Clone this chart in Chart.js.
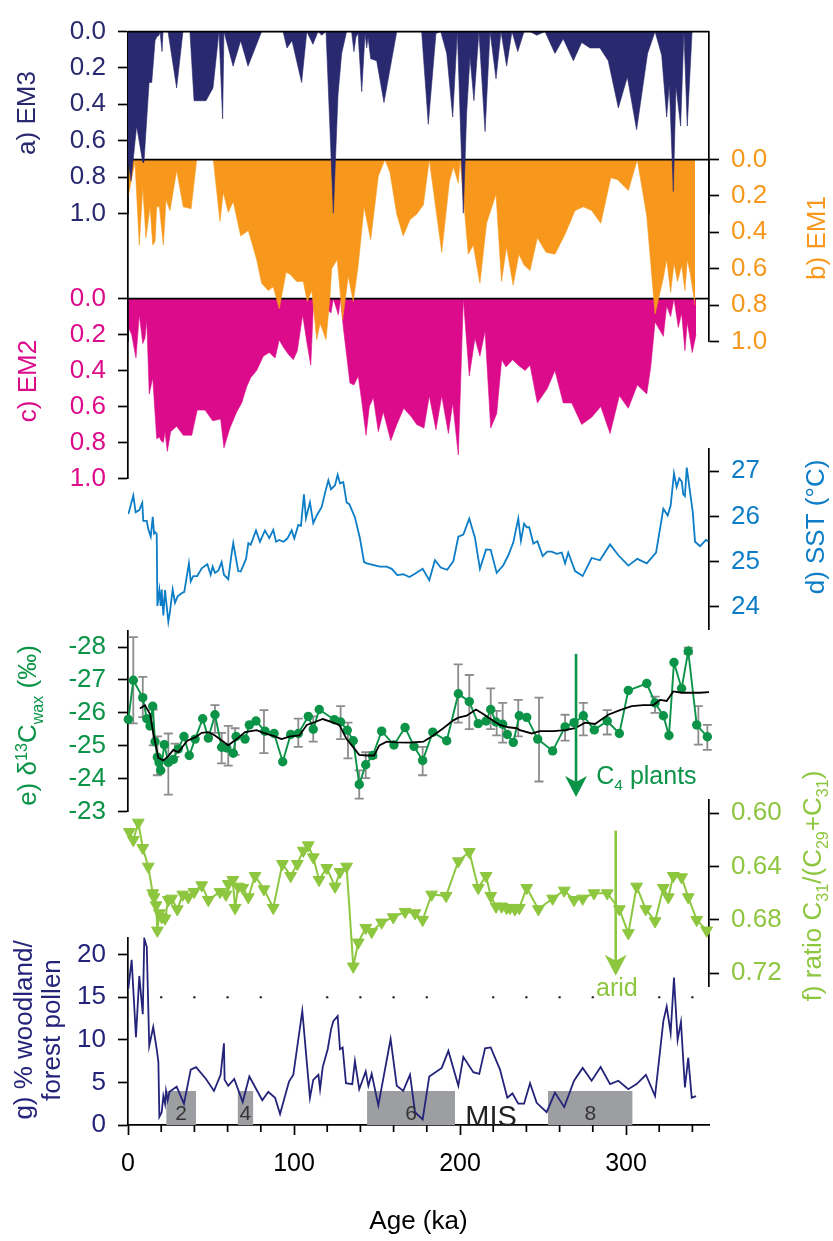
<!DOCTYPE html>
<html>
<head>
<meta charset="utf-8">
<script src="https://cdn.jsdelivr.net/npm/chart.js@4.4.1/dist/chart.umd.min.js"></script>
<style>
  html, body { margin: 0; padding: 0; background: #fff; }
  #fig { position: relative; width: 833px; height: 1241px; overflow: hidden; background: #fff; }
  #fig canvas { position: absolute; left: 0; }
</style>
</head>
<body>
<div id="fig"></div>
<script>
// ---- data (age in ka, value) ----
const AGE_MIN = 0, AGE_MAX = 350;
const AGE_TICKS = [0, 100, 200, 300];
const AGE_MINOR = [20, 40, 60, 80, 120, 140, 160, 180, 220, 240, 260, 280, 320, 340];

const EM_TICKS = [0, 0.2, 0.4, 0.6, 0.8, 1.0];
const SST_TICKS = [24, 25, 26, 27];
const D13C_TICKS = [-28, -27, -26, -25, -24, -23];
const RATIO_TICKS = [0.60, 0.62, 0.64, 0.66, 0.68, 0.70, 0.72];
const POLLEN_TICKS = [0, 5, 10, 15, 20];

const EM3 = [[0,0.70],[1.8,0.82],[5.2,0.52],[8.9,0.72],[9.6,0.72],[12.7,0.28],[14.3,0.28],[16.3,0.05],[17.3,0.03],[18.7,0.02],[19.3,0],[20.5,0.11],[21.1,0],[24.1,0],[29.3,0.31],[33.1,0],[37.3,0],[39.8,0.38],[47,0.38],[51.2,0.31],[54.8,0],[57,0.48],[57.8,0],[63.3,0.19],[67.9,0.05],[72.3,0.19],[80.5,0],[93.4,0],[95.8,0.09],[98.8,0.05],[104.6,0.28],[107.7,0],[111.4,0.07],[114.5,0],[116.7,0.02],[119.3,0],[123.7,1.0],[126.5,0.35],[128.7,0.12],[131.7,0],[134.7,0],[136.1,0.11],[137.3,0.03],[138.6,0.01],[140.8,0.33],[142.8,0.01],[143.8,0.09],[144.6,0.03],[146.2,0.15],[149.8,0.16],[154.2,0.39],[161.9,0],[176.9,0],[180.9,0.51],[185.5,0.01],[188.4,0],[192,0.12],[195.6,0.47],[198.4,0],[202,1.0],[204,0.45],[206,0.14],[208.4,0.38],[211.4,0],[215.1,0.55],[218.1,0],[221.7,0.26],[224.7,0],[228.1,0.19],[231.3,0],[234.8,0.11],[238.6,0],[242.2,0],[246.2,0.02],[251.2,0],[257.2,0.12],[262.2,0.04],[268.3,0.16],[273.3,0.06],[278.3,0.09],[284.3,0.09],[289.3,0.16],[295.4,0.42],[300.8,0.25],[306.4,0.54],[313,0.12],[317.5,0],[321.5,0.13],[324.5,0.47],[326.1,0.29],[328.5,0.88],[330.1,0.30],[332.9,0.52],[334.9,0],[336.9,0.52],[339.8,0],[341.6,0]];

const EM1 = [[0.2,0.20],[4.2,0.01],[6.8,0.47],[8.9,0.15],[10.8,0.43],[13.3,0.26],[14.9,0.47],[16.3,0.45],[17.3,0.26],[18.9,0.26],[21.3,0.47],[22.9,0.22],[25.3,0.28],[29.3,0.06],[33.3,0.26],[38,0.27],[41.4,0],[51.4,0],[55.4,0.34],[57.4,0.18],[60.4,0.29],[63.4,0.23],[67.9,0.42],[72.5,0.39],[77.5,0.55],[80.5,0.68],[84.5,0.72],[87.5,0.70],[91.1,0.82],[95.2,0.62],[97.6,0.63],[101.6,0.67],[105.6,0.67],[108,0.78],[110.7,0.72],[113.7,0.99],[115.7,0.90],[119.3,0.99],[121.7,0.75],[122.7,0.60],[126,0.55],[129.3,0.88],[132.7,0.64],[135.7,0.78],[138.7,0.58],[142.2,0.26],[146.2,0.44],[150.8,0.09],[154.8,0],[157.8,0.07],[161.9,0.30],[165.8,0.42],[169.9,0.33],[173.9,0.30],[177.9,0.25],[181.5,0],[189,0.51],[193.6,0.12],[196,0.04],[199,0.13],[200,0],[205,0.52],[208,0.47],[212,0.68],[216,0.35],[221.7,0.19],[225,0.67],[228,0.48],[232,0.69],[235.5,0.52],[238.6,0.58],[242.2,0.61],[246.6,0.43],[251.8,0.51],[257.2,0.52],[263.3,0.41],[269.3,0.28],[274.3,0.26],[279.3,0.28],[284.8,0.35],[290.8,0.10],[294.8,0.11],[301.4,0.17],[306.8,0],[312.5,0.31],[317.5,0.85],[322.5,0.65],[324.5,0.55],[326.9,0.73],[328.9,0.57],[331.1,0.67],[333.5,0.58],[335.5,0.72],[336.9,0.55],[338.6,0.62],[341.6,0.80]];

const EM2 = [[0.2,0.16],[2.2,0.20],[4.8,0.33],[6.8,0.09],[8.9,0.25],[10.2,0.22],[11.3,0.12],[12.8,0.53],[14.9,0.44],[17.3,0.78],[18.9,0.77],[19.9,0.79],[21.3,0.80],[22.3,0.74],[23.7,0.85],[25.7,0.74],[29.3,0.71],[33.3,0.76],[38.4,0.76],[41.7,0.62],[46.4,0.62],[51,0.68],[55.8,0.67],[57.8,0.83],[61.4,0.72],[65.5,0.63],[68.5,0.58],[71.5,0.49],[73.9,0.44],[77.5,0.40],[81.5,0.32],[85.1,0.30],[88.6,0.33],[91.1,0.23],[93.6,0.27],[96.6,0.31],[99.6,0.34],[102,0.29],[105.2,0.09],[107.7,0.24],[110.1,0.37],[111.6,0.05],[115.7,0.02],[122.3,0.08],[123.7,0],[126.7,0.09],[128.1,0],[129.7,0.16],[133.7,0.47],[136.1,0.48],[138.7,0.43],[140.8,0.57],[143.4,0.76],[145.4,0.60],[147.8,0.55],[150.8,0.74],[153.8,0.63],[158.3,0.79],[161.9,0.70],[166.1,0.61],[170.9,0.66],[173.9,0.70],[178.3,0.72],[181.5,0.54],[185.5,0.73],[189,0.54],[193,0.75],[195.6,0.58],[199,0.87],[202,0],[205.6,0.43],[209,0.22],[212,0.32],[215.1,0.18],[218.5,0.72],[222.1,0.64],[225.1,0.34],[227.7,0.38],[231.7,0.34],[235.1,0.37],[239.2,0.40],[242.2,0.37],[246.6,0.58],[252.6,0.50],[257.2,0.40],[262.2,0.58],[267.3,0.58],[273.3,0.70],[279.3,0.66],[284.8,0.60],[290.4,0.75],[296,0.54],[301.4,0.61],[306.8,0.48],[312.5,0.53],[314.9,0.38],[317.5,0.13],[322.5,0.21],[324.5,0.04],[326.9,0.10],[328.9,0],[331.5,0.16],[333.5,0.08],[335.5,0.29],[336.9,0.13],[339.9,0.30],[342.2,0.20]];

const SST_AGE = [0.2,3.2,4.6,6.8,8.6,9.2,11.3,12.2,13.7,14.9,15.7,16.4,17.3,17.7,18.9,19.7,20.3,21.3,22.3,23.3,24.3,25.3,26.9,28.3,29.9,32.3,33.9,36.7,37.8,39.3,41.7,44.4,47.8,49.8,51,52.4,54.4,56.4,57.8,60.4,62.5,63.4,66.4,67.9,71.1,72.5,73.9,77.1,79.5,82.5,85.1,87.5,89.2,91.1,93.6,96,98.6,100.2,102.6,104.2,106,107.2,109.6,111.6,113.7,116.7,118.7,120.7,122.3,124.7,126.3,127.7,129.7,131.7,133.3,136.7,139.8,142.2,143.8,151.8,155.8,158.9,162.2,165.8,169.5,172.9,177.5,181.5,184.9,188.4,192.3,196,199,202,205.6,209,212,215.7,218.5,222.1,226.1,229.1,232.1,235.1,236.7,238.6,240.2,241.7,244.2,246.6,249.8,252.6,255.2,258.3,261.3,263.3,265.2,269.3,273.9,279.3,284.3,290.4,295.4,301.4,306.8,312.5,318.1,322.5,325.1,326.9,328.9,330.5,332.1,333.6,334.5,335.5,336.6,338.1,340.2,341.6,344.6,348.2,349.6];
const SST_VAL = [26.05,26.46,26.09,26.14,26.30,25.90,25.90,25.72,25.55,25.99,25.62,25.65,25.61,24.02,24.37,24.02,24.38,23.81,24.37,24.02,23.67,23.90,24.38,24.09,24.23,24.30,24.33,24.96,24.56,24.68,24.68,24.85,24.94,24.71,24.89,24.75,24.80,24.99,24.71,24.61,25.20,25.41,24.79,24.78,25.06,25.41,25.37,25.69,25.44,25.69,25.52,25.70,25.44,25.48,25.44,25.51,25.69,25.51,25.81,25.79,26.49,25.96,26.31,25.85,26.02,26.21,26.52,26.80,26.60,26.69,26.92,26.73,26.76,26.31,26.27,25.98,25.50,24.99,24.96,24.89,24.89,24.84,24.70,24.72,24.66,24.73,24.84,24.59,25.03,24.87,24.82,25.01,25.55,25.60,25.95,25.53,24.84,25.27,25.26,24.75,24.92,25.14,25.42,25.95,25.46,25.84,25.76,25.76,25.40,25.45,25.12,25.22,25.22,25.17,25.20,24.96,25.20,24.79,24.68,25.08,25.03,25.38,25.14,24.91,25.06,24.96,25.20,26.17,26.02,26.24,26.95,26.65,26.84,26.77,26.49,26.45,27.08,26.67,26.10,25.44,25.34,25.48,25.45];

const D13C = [[0.2,-25.80],[3.2,-26.99],[8.9,-26.46],[11.3,-25.82],[13.3,-25.60],[14.9,-26.20],[16.3,-25.12],[17.7,-24.65],[18.7,-24.49],[19.7,-24.25],[21.9,-25.03],[24.3,-24.49],[27.3,-24.58],[30.3,-24.90],[33.7,-25.28],[36.9,-24.70],[40.4,-25.20],[45,-25.82],[48.4,-25.23],[52.4,-25.94],[56.4,-24.95],[59.5,-24.93],[63.4,-24.77],[65.1,-25.28],[70.5,-25.20],[73.1,-25.63],[77.1,-25.75],[82.5,-25.44],[88,-25.37],[93.2,-24.51],[98,-25.34],[102.6,-25.37],[108.6,-25.89],[111.6,-25.50],[115.2,-26.10],[124.3,-25.79],[128.1,-25.72],[132.1,-25.47],[135.7,-25.15],[139.3,-23.82],[143.2,-24.42],[147.4,-24.70],[152.8,-25.44],[160.2,-25.02],[166.9,-25.55],[172.3,-24.98],[177.5,-24.55],[183.6,-25.41],[192,-25.15],[199,-26.58],[205.6,-26.34],[211,-25.67],[215.7,-25.75],[218.5,-26.10],[221.7,-25.72],[225.7,-25.65],[228.5,-25.34],[232.1,-25.10],[235.7,-25.91],[240.2,-25.86],[246.8,-25.20],[255.8,-24.84],[263.3,-25.57],[268.7,-25.70],[274.3,-25.91],[280.9,-25.48],[288.7,-25.75],[296,-25.37],[301.4,-26.68],[312.5,-26.89],[317.5,-26.30],[322.5,-25.91],[325.9,-25.31],[328.9,-27.53],[333.5,-26.74],[337.5,-27.87],[342.6,-25.63],[349,-25.27]];

// [age, upper, lower] in permil
const D13C_ERR = [[3.2,-28.30,-25.68],[8.9,-27.09,-25.87],[15.2,-26.10,-25.01],[17.7,-25.28,-24.10],[24.3,-25.37,-23.51],[28.3,-25.06,-24.66],[52.4,-26.23,-25.39],[56.4,-25.39,-24.46],[60.4,-25.60,-24.39],[64.5,-25.53,-24.72],[81.9,-26.08,-24.77],[102.6,-25.82,-24.96],[111.6,-25.89,-25.12],[128.1,-26.20,-25.20],[132.5,-25.70,-24.61],[139.3,-24.25,-23.39],[143.2,-24.80,-24.01],[147.4,-24.80,-24.63],[177.5,-24.96,-24.10],[198.9,-27.47,-25.70],[205.6,-27.15,-25.50],[218.5,-26.74,-25.50],[222.1,-26.06,-25.31],[225.7,-26.30,-25.09],[235.1,-26.39,-25.28],[247.6,-26.46,-23.91],[263.3,-25.94,-25.15],[274.3,-26.30,-25.31],[288.7,-26.08,-25.34],[317.5,-26.49,-26.00],[337.5,-27.98,-27.79],[343.6,-26.20,-25.03],[349,-25.63,-24.87]];

const D13C_SMOOTH = [[7.2,-26.13],[10.2,-26.23],[13.3,-25.96],[15.2,-25.39],[18.3,-24.63],[21.3,-24.55],[24.3,-24.68],[27.3,-24.87],[30.3,-24.80],[35.7,-25.15],[40.4,-25.25],[44.4,-25.39],[48.4,-25.41],[52.4,-25.31],[60.4,-25.01],[65.5,-25.20],[70.5,-25.41],[77.5,-25.47],[81.5,-25.39],[87.5,-25.30],[92.6,-25.20],[97.6,-25.28],[103.2,-25.31],[107.7,-25.63],[112.7,-25.72],[117.3,-25.81],[123.7,-25.70],[127.3,-25.63],[131.7,-25.20],[134.8,-25.01],[139.3,-24.72],[143.8,-24.70],[148.2,-24.70],[151.4,-25.01],[155.8,-25.12],[161.9,-25.10],[169.9,-25.09],[177.9,-25.12],[183.9,-25.31],[189.9,-25.53],[196,-25.77],[199,-25.85],[204,-25.91],[209.6,-26.10],[214,-25.96],[219.1,-25.79],[224.1,-25.63],[229.1,-25.56],[234.2,-25.53],[236.1,-25.47],[243.2,-25.37],[248.2,-25.44],[256.2,-25.44],[263.3,-25.47],[269.3,-25.53],[275.3,-25.70],[281.3,-25.66],[289.3,-25.94],[296.4,-26.08],[303.4,-26.20],[310.4,-26.23],[316.4,-26.23],[320.5,-26.39],[324.5,-26.36],[328.5,-26.65],[333.5,-26.61],[339.6,-26.61],[344.6,-26.61],[350,-26.63]];

const RATIO = [[0.8,0.614],[3.2,0.620],[6.2,0.607],[8.9,0.626],[12.2,0.640],[14.9,0.660],[15.7,0.663],[16.9,0.669],[17.7,0.688],[18.9,0.675],[20.3,0.678],[22.3,0.679],[24.3,0.665],[26.3,0.664],[29.7,0.672],[33,0.661],[36.3,0.663],[39.8,0.659],[44.4,0.654],[48.4,0.665],[55.4,0.659],[59,0.661],[60.4,0.653],[63.1,0.650],[64.5,0.671],[66.4,0.655],[69.1,0.656],[72.5,0.663],[76.5,0.647],[81.9,0.657],[87.5,0.671],[93,0.638],[98,0.647],[102,0.638],[105.6,0.628],[108.6,0.624],[111.6,0.633],[115.1,0.650],[119.7,0.641],[124.7,0.655],[127.7,0.644],[131.7,0.640],[135.7,0.715],[138.7,0.697],[143.2,0.686],[146.8,0.689],[152.8,0.682],[159.8,0.678],[166.9,0.674],[172.9,0.675],[177.5,0.680],[182.9,0.661],[191.6,0.662],[199,0.636],[205.6,0.629],[211,0.656],[215.7,0.647],[218.5,0.662],[221.7,0.670],[225.1,0.670],[228.1,0.671],[230.1,0.671],[233.1,0.672],[235.7,0.671],[240.2,0.656],[247.2,0.672],[255.8,0.664],[262.8,0.658],[268.7,0.665],[273.9,0.664],[280.7,0.660],[288.7,0.660],[296,0.672],[301.4,0.690],[306.4,0.655],[311.9,0.672],[317.5,0.681],[322.5,0.656],[325.5,0.663],[328.5,0.647],[333.5,0.648],[337.5,0.663],[342.6,0.680],[348.6,0.688]];

const POLLEN = [[0.2,16.0],[2.2,19.4],[4.8,10.3],[6.8,17.5],[8.9,13.0],[9.8,21.9],[11.3,20.9],[12.8,9.3],[15.2,11.5],[17.3,8.9],[18.3,7.4],[18.9,0.95],[20.3,1.5],[21.3,3.4],[22.3,2.5],[22.9,4.0],[23.9,2.9],[25,3.9],[29.3,4.5],[33.7,2.5],[37.8,6.5],[41,6.8],[47,5.4],[51.8,4.0],[55.8,5.9],[57.8,9.6],[58.2,5.3],[60.4,4.6],[64,5.4],[69.1,2.7],[73.1,5.7],[80.9,2.9],[84.5,3.9],[88.6,3.2],[91.6,1.3],[94,3.0],[97,5.1],[99.6,5.9],[105,13.4],[109.6,3.2],[111.6,5.3],[114.7,5.9],[115.7,4.2],[117.3,6.8],[120.3,8.9],[122.3,11.2],[123.7,12.2],[126.3,12.8],[127.7,8.9],[129.3,9.1],[131.3,4.9],[135.1,4.8],[136.7,7.5],[139.3,4.2],[143.2,6.3],[144.8,4.6],[146.8,6.0],[150.8,2.3],[158.2,10.1],[161.9,4.6],[165.8,4.0],[169.9,5.9],[172.9,1.5],[177.5,0.65],[181.5,5.7],[189,6.7],[193,8.7],[199,4.6],[202,8.0],[208,6.2],[211.6,6.0],[215.1,9.0],[218.5,9.1],[224.1,6.5],[228.5,3.2],[231.6,3.7],[235.1,2.5],[238.6,2.5],[242.2,4.9],[246.2,2.6],[252.2,1.5],[257.2,3.8],[262.8,2.1],[268.7,5.2],[273.9,6.7],[279.3,5.2],[284.7,6.8],[290.4,4.8],[295.4,5.2],[301.4,4.2],[306.4,4.8],[312,5.9],[317.5,3.4],[322.5,12.2],[324.5,13.9],[326.9,10.8],[328.9,17.3],[331.1,10.0],[333.1,12.1],[335.5,4.4],[337.5,7.9],[339.6,3.2],[342.2,3.4]];

const POLLEN_REF_LEVEL = 15;
// marine isotope stages: [label, start ka, end ka]
const MIS = [['2', 23, 41], ['4', 66, 75.5], ['6', 144, 197], ['8', 253, 304]];
const MIS_HEIGHT = 4;

// ---- styling / layout ----
const FONT = '"Liberation Sans", Arial, Helvetica, sans-serif';
const WIDTH = 833, LEFT = 128, RIGHT = 709;
const NAVY = '#29296f', ORANGE = '#f7981d', MAGENTA = '#dc0b8b', BLUE = '#0c7dc6',
      GREEN = '#0b9347', LIME = '#8dc63f', POLNAVY = '#24237a', GREY = '#8c8c8c';

Chart.defaults.font.family = FONT;
const fig = document.getElementById('fig');
const pts = arr => arr.map(([x, y]) => ({ x, y }));
const fontOf = s => `${s}px ${FONT}`;

function valueAxis(side, color, min, max, ticks, fmt, reverse) {
  return {
    type: 'linear', position: side, min, max, reverse: !!reverse,
    afterFit: s => { s.width = side === 'left' ? LEFT : WIDTH - RIGHT; },
    afterBuildTicks: s => { s.ticks = ticks.map(value => ({ value })); },
    border: { display: true, color: '#000', width: 1.7 },
    grid: { drawOnChartArea: false, tickLength: 10, tickWidth: 1.7, tickColor: '#000', color: '#000' },
    ticks: { color, padding: 12, font: { size: 26 }, callback: fmt }
  };
}
function spineOnly(side) {
  return {
    type: 'linear', position: side,
    afterFit: s => { s.width = side === 'left' ? LEFT : WIDTH - RIGHT; },
    border: { display: true, color: '#000', width: 1.7 },
    grid: { display: false }, ticks: { display: false }
  };
}

// rich text, segments: 'text' or ['text', 1 sub | -1 sup]
function drawRich(ctx, segs, x, y, size, color, opt = {}) {
  ctx.save();
  ctx.translate(x, y);
  if (opt.rotate) ctx.rotate(-Math.PI / 2);
  const parts = segs.map(s => typeof s === 'string' ? [s, 0] : s);
  let total = 0;
  parts.forEach(([t, k]) => { ctx.font = fontOf(k ? size * 0.62 : size); total += ctx.measureText(t).width; });
  let cx = opt.align === 'left' ? 0 : -total / 2;
  const base = opt.baseline ? 0 : size * 0.36;
  ctx.fillStyle = color; ctx.textBaseline = 'alphabetic'; ctx.textAlign = 'left';
  parts.forEach(([t, k]) => {
    ctx.font = fontOf(k ? size * 0.62 : size);
    const dy = k === 1 ? size * 0.24 : k === -1 ? -size * 0.36 : 0;
    ctx.fillText(t, cx, base + dy);
    cx += ctx.measureText(t).width;
  });
  ctx.restore();
}

function drawArrow(ctx, xs, ys, age, from, to, color) {
  const px = xs.getPixelForValue(age), y1 = ys.getPixelForValue(from), y2 = ys.getPixelForValue(to);
  ctx.save();
  ctx.strokeStyle = color; ctx.fillStyle = color; ctx.lineWidth = 2.6;
  ctx.beginPath(); ctx.moveTo(px, y1); ctx.lineTo(px, y2 - 12); ctx.stroke();
  ctx.beginPath();
  ctx.moveTo(px, y2); ctx.lineTo(px - 11, y2 - 21); ctx.lineTo(px, y2 - 15); ctx.lineTo(px + 11, y2 - 21);
  ctx.closePath(); ctx.fill();
  ctx.restore();
}

const baseline = {
  id: 'baseline',
  afterDatasetsDraw(chart) {
    const { ctx, chartArea: a, scales: { y } } = chart;
    const py = y.getPixelForValue(0);
    ctx.save(); ctx.strokeStyle = '#000'; ctx.lineWidth = 1.7;
    ctx.beginPath(); ctx.moveTo(a.left, py); ctx.lineTo(a.right, py); ctx.stroke();
    ctx.restore();
  }
};

function makePanel(o) {
  const padTop = o.padTop || 22;
  const padBottom = o.xAxis ? 0 : 22;
  const axisH = o.xAxis ? 116 : 0;
  const off = o.top - padTop;
  const cv = document.createElement('canvas');
  cv.width = WIDTH;
  cv.height = o.bottom - o.top + padTop + padBottom + axisH;
  cv.style.top = off + 'px';
  fig.appendChild(cv);
  const titles = {
    id: 'titles',
    afterDraw(chart) {
      (o.titles || []).forEach(t => drawRich(chart.ctx, t.segs, t.x, t.y - off, t.size || 26, t.color, { rotate: true }));
    }
  };
  return new Chart(cv, {
    type: 'line',
    data: { datasets: o.datasets },
    options: {
      responsive: false, animation: false, devicePixelRatio: 1, events: [],
      layout: { padding: { top: padTop, bottom: padBottom, left: o.hasLeft ? 0 : LEFT, right: o.hasRight ? 0 : WIDTH - RIGHT } },
      plugins: { legend: { display: false }, tooltip: { enabled: false } },
      scales: Object.assign({ x: o.xAxis || { type: 'linear', min: AGE_MIN, max: AGE_MAX, display: false } }, o.scales)
    },
    plugins: [titles].concat(o.plugins || [])
  });
}

const fillSet = (arr, color) => ({
  data: pts(arr), fill: 'origin', backgroundColor: color, borderColor: color,
  borderWidth: 0.6, pointRadius: 0, tension: 0
});
const emFmt = v => v.toFixed(1);

// c) EM2 (bottom of the stack of fills)
makePanel({
  top: 293, bottom: 484.5, hasLeft: true,
  datasets: [fillSet(EM2, MAGENTA)],
  scales: { y: valueAxis('left', MAGENTA, 0, 1, EM_TICKS, emFmt, true) },
  titles: [{ segs: ['c) EM2'], x: 27, y: 381, color: MAGENTA }],
  plugins: [baseline]
});

// b) EM1
makePanel({
  top: 154, bottom: 347, hasLeft: true, hasRight: true,
  datasets: [fillSet(EM1, ORANGE)],
  scales: { y: valueAxis('right', ORANGE, 0, 1, EM_TICKS, emFmt, true), yl: spineOnly('left') },
  titles: [{ segs: ['b) EM1'], x: 816, y: 238, color: ORANGE }],
  plugins: [baseline]
});

// a) EM3
makePanel({
  top: 26, bottom: 219, hasLeft: true, hasRight: true,
  datasets: [fillSet(EM3, NAVY)],
  scales: { y: valueAxis('left', NAVY, 0, 1, EM_TICKS, emFmt, true), yr: spineOnly('right') },
  titles: [{ segs: ['a) EM3'], x: 26, y: 113, color: NAVY }],
  plugins: [baseline]
});

// d) SST
makePanel({
  top: 443, bottom: 635, hasRight: true,
  datasets: [{ data: SST_AGE.map((x, i) => ({ x, y: SST_VAL[i] })), borderColor: BLUE, borderWidth: 1.8, pointRadius: 0, tension: 0, fill: false }],
  scales: { y: valueAxis('right', BLUE, 23.5, 27.5, SST_TICKS, v => String(v)) },
  titles: [{ segs: ['d) SST (\u00B0C)'], x: 815, y: 527, color: BLUE }]
});

// e) d13C wax
const errorBars = {
  id: 'errorBars',
  beforeDatasetsDraw(chart) {
    const { ctx, scales: { x, y } } = chart;
    ctx.save(); ctx.strokeStyle = GREY; ctx.lineWidth = 1.8;
    D13C_ERR.forEach(([age, lo, hi]) => {
      const px = x.getPixelForValue(age), y1 = y.getPixelForValue(lo), y2 = y.getPixelForValue(hi);
      ctx.beginPath();
      ctx.moveTo(px, y1); ctx.lineTo(px, y2);
      ctx.moveTo(px - 4.5, y1); ctx.lineTo(px + 4.5, y1);
      ctx.moveTo(px - 4.5, y2); ctx.lineTo(px + 4.5, y2);
      ctx.stroke();
    });
    ctx.restore();
  }
};
const c4Note = {
  id: 'c4Note',
  afterDatasetsDraw(chart) {
    const { ctx, scales: { x, y } } = chart;
    drawArrow(ctx, x, y, 269.9, -27.79, -23.44, GREEN);
    drawRich(ctx, ['C', ['4', 1], ' plants'], x.getPixelForValue(282.1), y.getPixelForValue(-23.83), 25, GREEN, { align: 'left', baseline: true });
  }
};
makePanel({
  top: 624.5, bottom: 817, hasLeft: true,
  datasets: [
    { data: pts(D13C_SMOOTH), borderColor: '#000', borderWidth: 1.8, pointRadius: 0, tension: 0, fill: false },
    { data: pts(D13C), borderColor: GREEN, borderWidth: 1.9, pointRadius: 4.7, pointBorderWidth: 0,
      pointBackgroundColor: GREEN, tension: 0, fill: false, clip: false }
  ],
  scales: { y: valueAxis('left', GREEN, -28.5, -23, D13C_TICKS, v => String(v), true) },
  titles: [{ segs: ['e) \u03B4', ['13', -1], 'C', ['wax', 1], ' (\u2030)'], x: 27, y: 725, color: GREEN }],
  plugins: [errorBars, c4Note]
});

// f) ratio C31/(C29+C31)
const aridNote = {
  id: 'aridNote',
  afterDatasetsDraw(chart) {
    const { ctx, scales: { x, y } } = chart;
    drawArrow(ctx, x, y, 293.8, 0.613, 0.722, LIME);
    drawRich(ctx, ['arid'], x.getPixelForValue(294.5), y.getPixelForValue(0.7375), 25, LIME, { baseline: true });
  }
};
makePanel({
  top: 800, bottom: 992.5, hasRight: true, padTop: 46,
  datasets: [{ data: pts(RATIO), borderColor: LIME, borderWidth: 2, pointStyle: 'triangle', pointRotation: 180,
    pointRadius: 6.8, pointBorderWidth: 1, pointBackgroundColor: LIME, pointBorderColor: LIME, tension: 0, fill: false, clip: false }],
  scales: { y: valueAxis('right', LIME, 0.59, 0.73, RATIO_TICKS, (v, i) => i % 2 === 0 ? v.toFixed(2) : '', true) },
  titles: [{ segs: ['f) ratio C', ['31', 1], '/(C', ['29', 1], '+C', ['31', 1], ')'], x: 812, y: 886, color: LIME }],
  plugins: [aridNote]
});

// g) pollen + MIS + age axis
const misLabels = {
  id: 'misLabels',
  afterDatasetsDraw(chart) {
    const { ctx, scales: { x, y }, chartArea } = chart;
    ctx.save();
    ctx.fillStyle = '#333'; ctx.textAlign = 'center'; ctx.textBaseline = 'alphabetic';
    ctx.font = fontOf(21);
    MIS.forEach(([lab, a, b]) => ctx.fillText(lab, x.getPixelForValue((a + b) / 2), y.getPixelForValue(0.6)));
    ctx.font = fontOf(29); ctx.fillStyle = '#222';
    ctx.fillText('MIS', x.getPixelForValue(218.7), y.getPixelForValue(0) + 1);
    // minor age ticks
    ctx.strokeStyle = '#000'; ctx.lineWidth = 1.7;
    AGE_MINOR.forEach(v => {
      const px = x.getPixelForValue(v);
      ctx.beginPath(); ctx.moveTo(px, chartArea.bottom); ctx.lineTo(px, chartArea.bottom + 7); ctx.stroke();
    });
    ctx.restore();
  }
};
const pollenTitle = {
  id: 'pollenTitle',
  afterDraw(chart) {
    const off = 932 - 22;
    drawRich(chart.ctx, ['g) % woodland/'], 23, 1030 - off, 26, POLNAVY, { rotate: true });
    drawRich(chart.ctx, ['forest pollen'], 51, 1030 - off, 26, POLNAVY, { rotate: true });
  }
};
makePanel({
  top: 932, bottom: 1125, hasLeft: true,
  xAxis: {
    type: 'linear', position: 'bottom', min: AGE_MIN, max: AGE_MAX,
    afterFit: s => { s.height = 116; },
    afterBuildTicks: s => { s.ticks = AGE_TICKS.map(value => ({ value })); },
    border: { display: true, color: '#000', width: 1.7 },
    grid: { drawOnChartArea: false, tickLength: 10, tickWidth: 1.7, tickColor: '#000', color: '#000' },
    ticks: { color: '#000', padding: 14, maxRotation: 0, autoSkip: false, font: { size: 25 } },
    title: { display: true, text: 'Age (ka)', color: '#000', font: { size: 26 }, padding: { top: 0, bottom: 4 } }
  },
  datasets: [
    { data: pts(POLLEN), borderColor: POLNAVY, borderWidth: 1.8, pointRadius: 0, tension: 0, fill: false },
    { data: AGE_MINOR.map(x => ({ x, y: POLLEN_REF_LEVEL })), showLine: false, pointRadius: 1.2,
      pointBorderWidth: 0, pointBackgroundColor: '#333' }
  ].concat(MIS.map(([lab, a, b]) => ({
    data: [{ x: a, y: MIS_HEIGHT }, { x: b, y: MIS_HEIGHT }], fill: 'origin',
    backgroundColor: '#9d9ea2', borderWidth: 0, pointRadius: 0
  }))),
  scales: { y: valueAxis('left', POLNAVY, 0, 22, POLLEN_TICKS, v => String(v)) },
  plugins: [misLabels, pollenTitle]
});
</script>
</body>
</html>
